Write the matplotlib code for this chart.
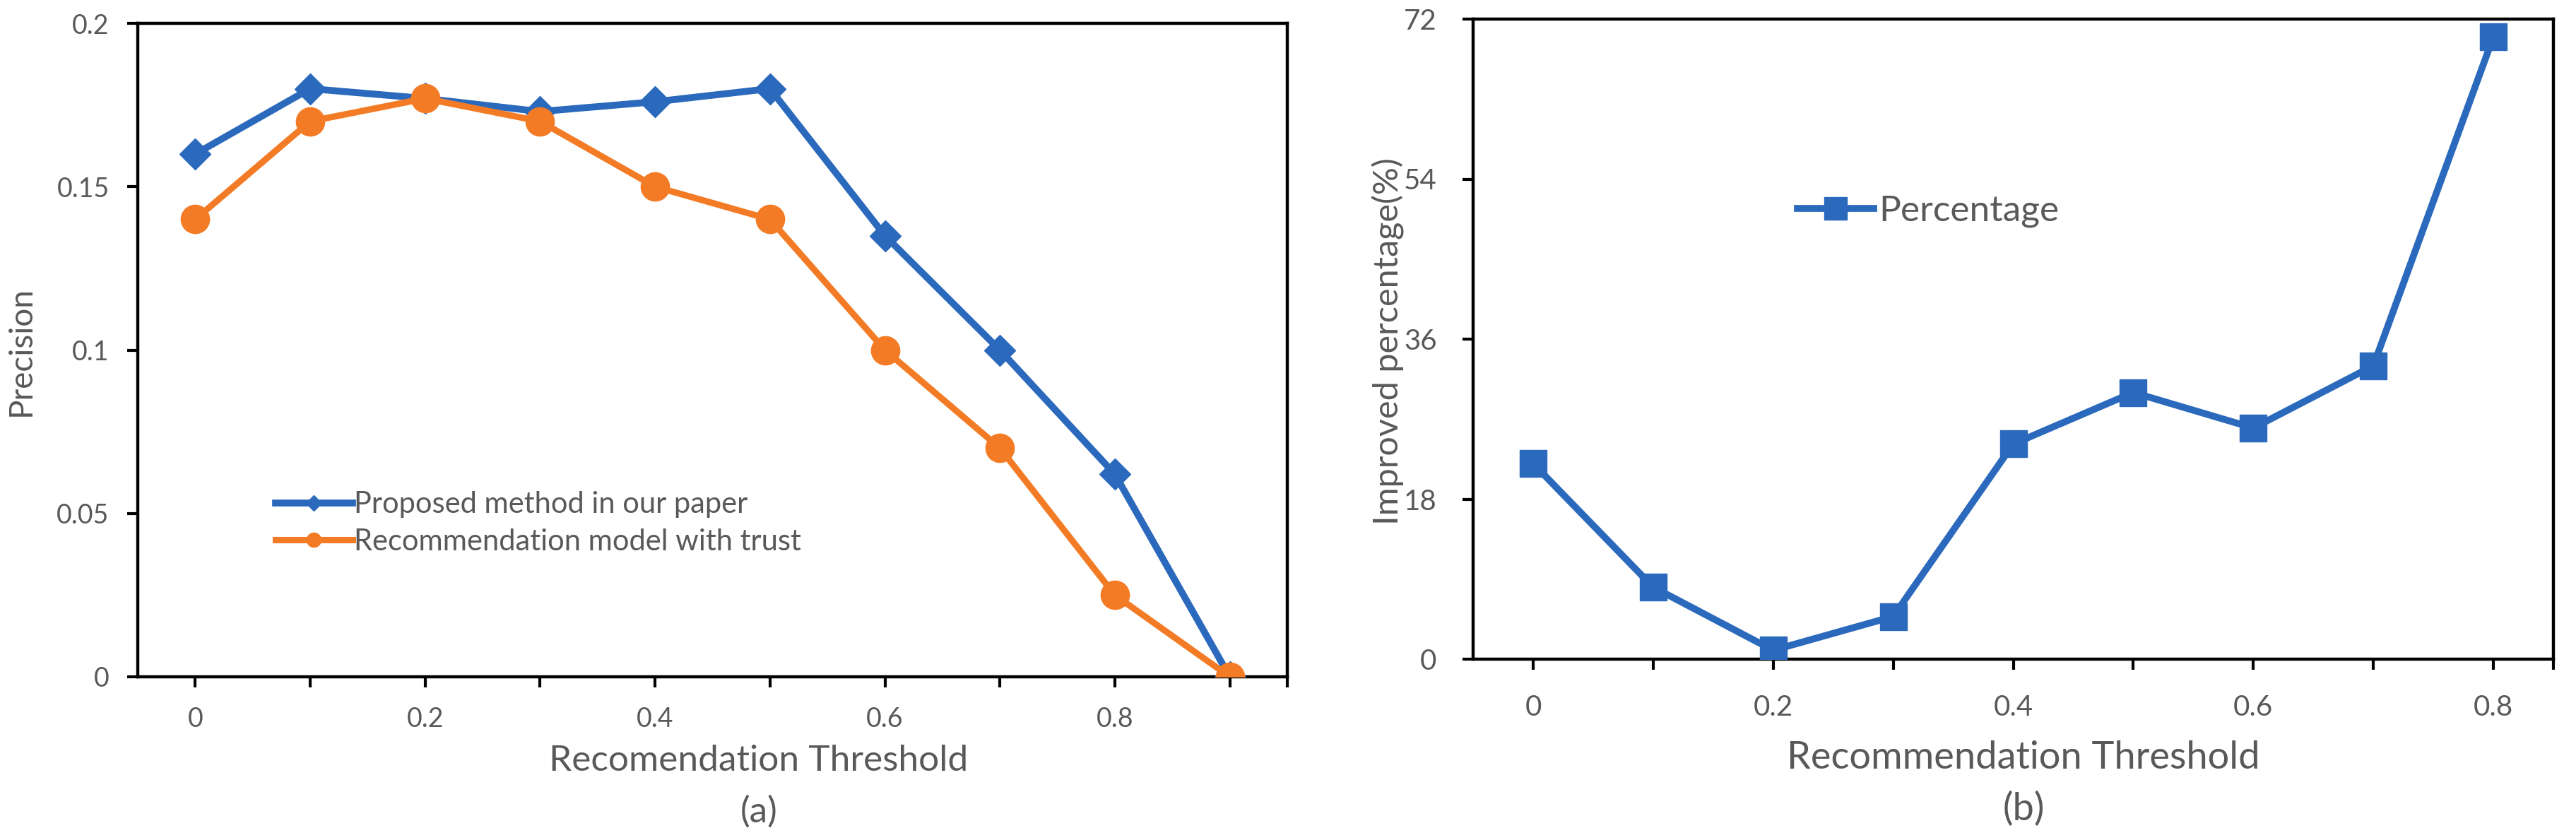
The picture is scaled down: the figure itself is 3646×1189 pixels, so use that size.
import matplotlib
matplotlib.use("Agg")
import matplotlib.pyplot as plt

# values
thresholds_a = [0.0, 0.1, 0.2, 0.3, 0.4, 0.5, 0.6, 0.7, 0.8, 0.9]
proposed = [0.160, 0.180, 0.177, 0.173, 0.176, 0.180, 0.135, 0.100, 0.062, 0.0]
trust_model = [0.140, 0.170, 0.177, 0.170, 0.150, 0.140, 0.100, 0.070, 0.025, 0.0]

thresholds_b = [0.0, 0.1, 0.2, 0.3, 0.4, 0.5, 0.6, 0.7, 0.8]
improved = [22.0, 8.1, 1.0, 4.8, 24.2, 30.0, 26.0, 33.0, 70.0]

xticks_a = [0, 0.2, 0.4, 0.6, 0.8]
xticks_b = [0, 0.2, 0.4, 0.6, 0.8]
yticks_a = [0, 0.05, 0.1, 0.15, 0.2]
ytick_labels_a = ["0", "0.05", "0.1", "0.15", "0.2"]
yticks_b = [0, 18, 36, 54, 72]

BLUE = "#2A69BC"
ORANGE = "#F47B25"
GREY = "#595959"
FONT = ["Lato", "DejaVu Sans"]

plt.rcParams["font.family"] = FONT

W, H = 3646, 1189
fig = plt.figure(figsize=(W / 100, H / 100), dpi=100)


def px_axes(left, top, right, bottom):
    """Axes from pixel box in the figure."""
    return fig.add_axes([left / W, 1 - bottom / H, (right - left) / W, (bottom - top) / H])


def style_axes(ax, xlim, ylim, xticks, yticks, ylabels, size, xpad, ypad):
    ax.set_xlim(*xlim)
    ax.set_ylim(*ylim)
    for s in ax.spines.values():
        s.set_linewidth(3.2)
        s.set_color("black")
    # ticks every 0.1 plus one at the right end, labels every 0.2
    minor = [round(i * 0.1, 1) for i in range(int(xlim[1] * 10) + 1)]
    minor.append(xlim[1])
    ax.set_xticks(minor, minor=True)
    ax.set_xticks(xticks)
    ax.set_xticklabels([("%g" % t) for t in xticks])
    ax.set_yticks(yticks)
    ax.set_yticklabels(ylabels)
    ax.tick_params(axis="x", which="both", direction="out", length=11, width=3,
                   color="black", labelsize=size, labelcolor=GREY, pad=xpad)
    ax.tick_params(axis="y", direction="out", length=11, width=3,
                   color="black", labelsize=size, labelcolor=GREY, pad=ypad)


# (a) precision
ax1 = px_axes(195, 33, 1822, 958)
ax1.plot(thresholds_a, proposed, color=BLUE, lw=7, marker="D", ms=22,
         label="Proposed method in our paper", zorder=3)
ax1.plot(thresholds_a, trust_model, color=ORANGE, lw=6.5, marker="o", ms=29,
         label="Recommendation model with trust", zorder=4)
style_axes(ax1, (-0.05, 0.95), (0, 0.2), xticks_a, yticks_a, ytick_labels_a, 27, 19, 18)
leg1 = ax1.legend(loc="center left", bbox_to_anchor=(0.12, 0.235), frameon=False,
                  fontsize=30, handlelength=2.6, handletextpad=0.05,
                  labelspacing=0.35, borderpad=0, borderaxespad=0, markerscale=0.5)
for t in leg1.get_texts():
    t.set_color(GREY)

# (b) improved percentage
ax2 = px_axes(2085, 27, 3614, 933)
ax2.plot(thresholds_b, improved, color=BLUE, lw=7, marker="s", ms=28,
         label="Percentage", zorder=3)
style_axes(ax2, (-0.05, 0.85), (0, 72), xticks_b, yticks_b,
           [str(v) for v in yticks_b], 29, 25, 26)
leg2 = ax2.legend(loc="center left", bbox_to_anchor=(0.30, 0.70), frameon=False,
                  fontsize=37, handlelength=2.1, handletextpad=0.15,
                  borderpad=0, borderaxespad=0, markerscale=0.8)
for t in leg2.get_texts():
    t.set_color(GREY)

# axis titles and captions
fig.text(1074 / W, 1 - 1077 / H, "Recomendation Threshold", ha="center", va="center",
         fontsize=37, color=GREY)
fig.text(1074 / W, 1 - 1149 / H, "(a)", ha="center", va="center", fontsize=37, color=GREY)
fig.text(30 / W, 1 - 497 / H, "Precision", ha="center", va="center", rotation=90,
         fontsize=33, color=GREY)

fig.text(2864 / W, 1 - 1073 / H, "Recommendation Threshold", ha="center", va="center",
         fontsize=39, color=GREY)
fig.text(2864 / W, 1 - 1145 / H, "(b)", ha="center", va="center", fontsize=39, color=GREY)
fig.text(1965 / W, 1 - 483 / H, "Improved percentage(%)", ha="center", va="center",
         rotation=90, fontsize=35, color=GREY)

fig.savefig("out.png", dpi=100)
